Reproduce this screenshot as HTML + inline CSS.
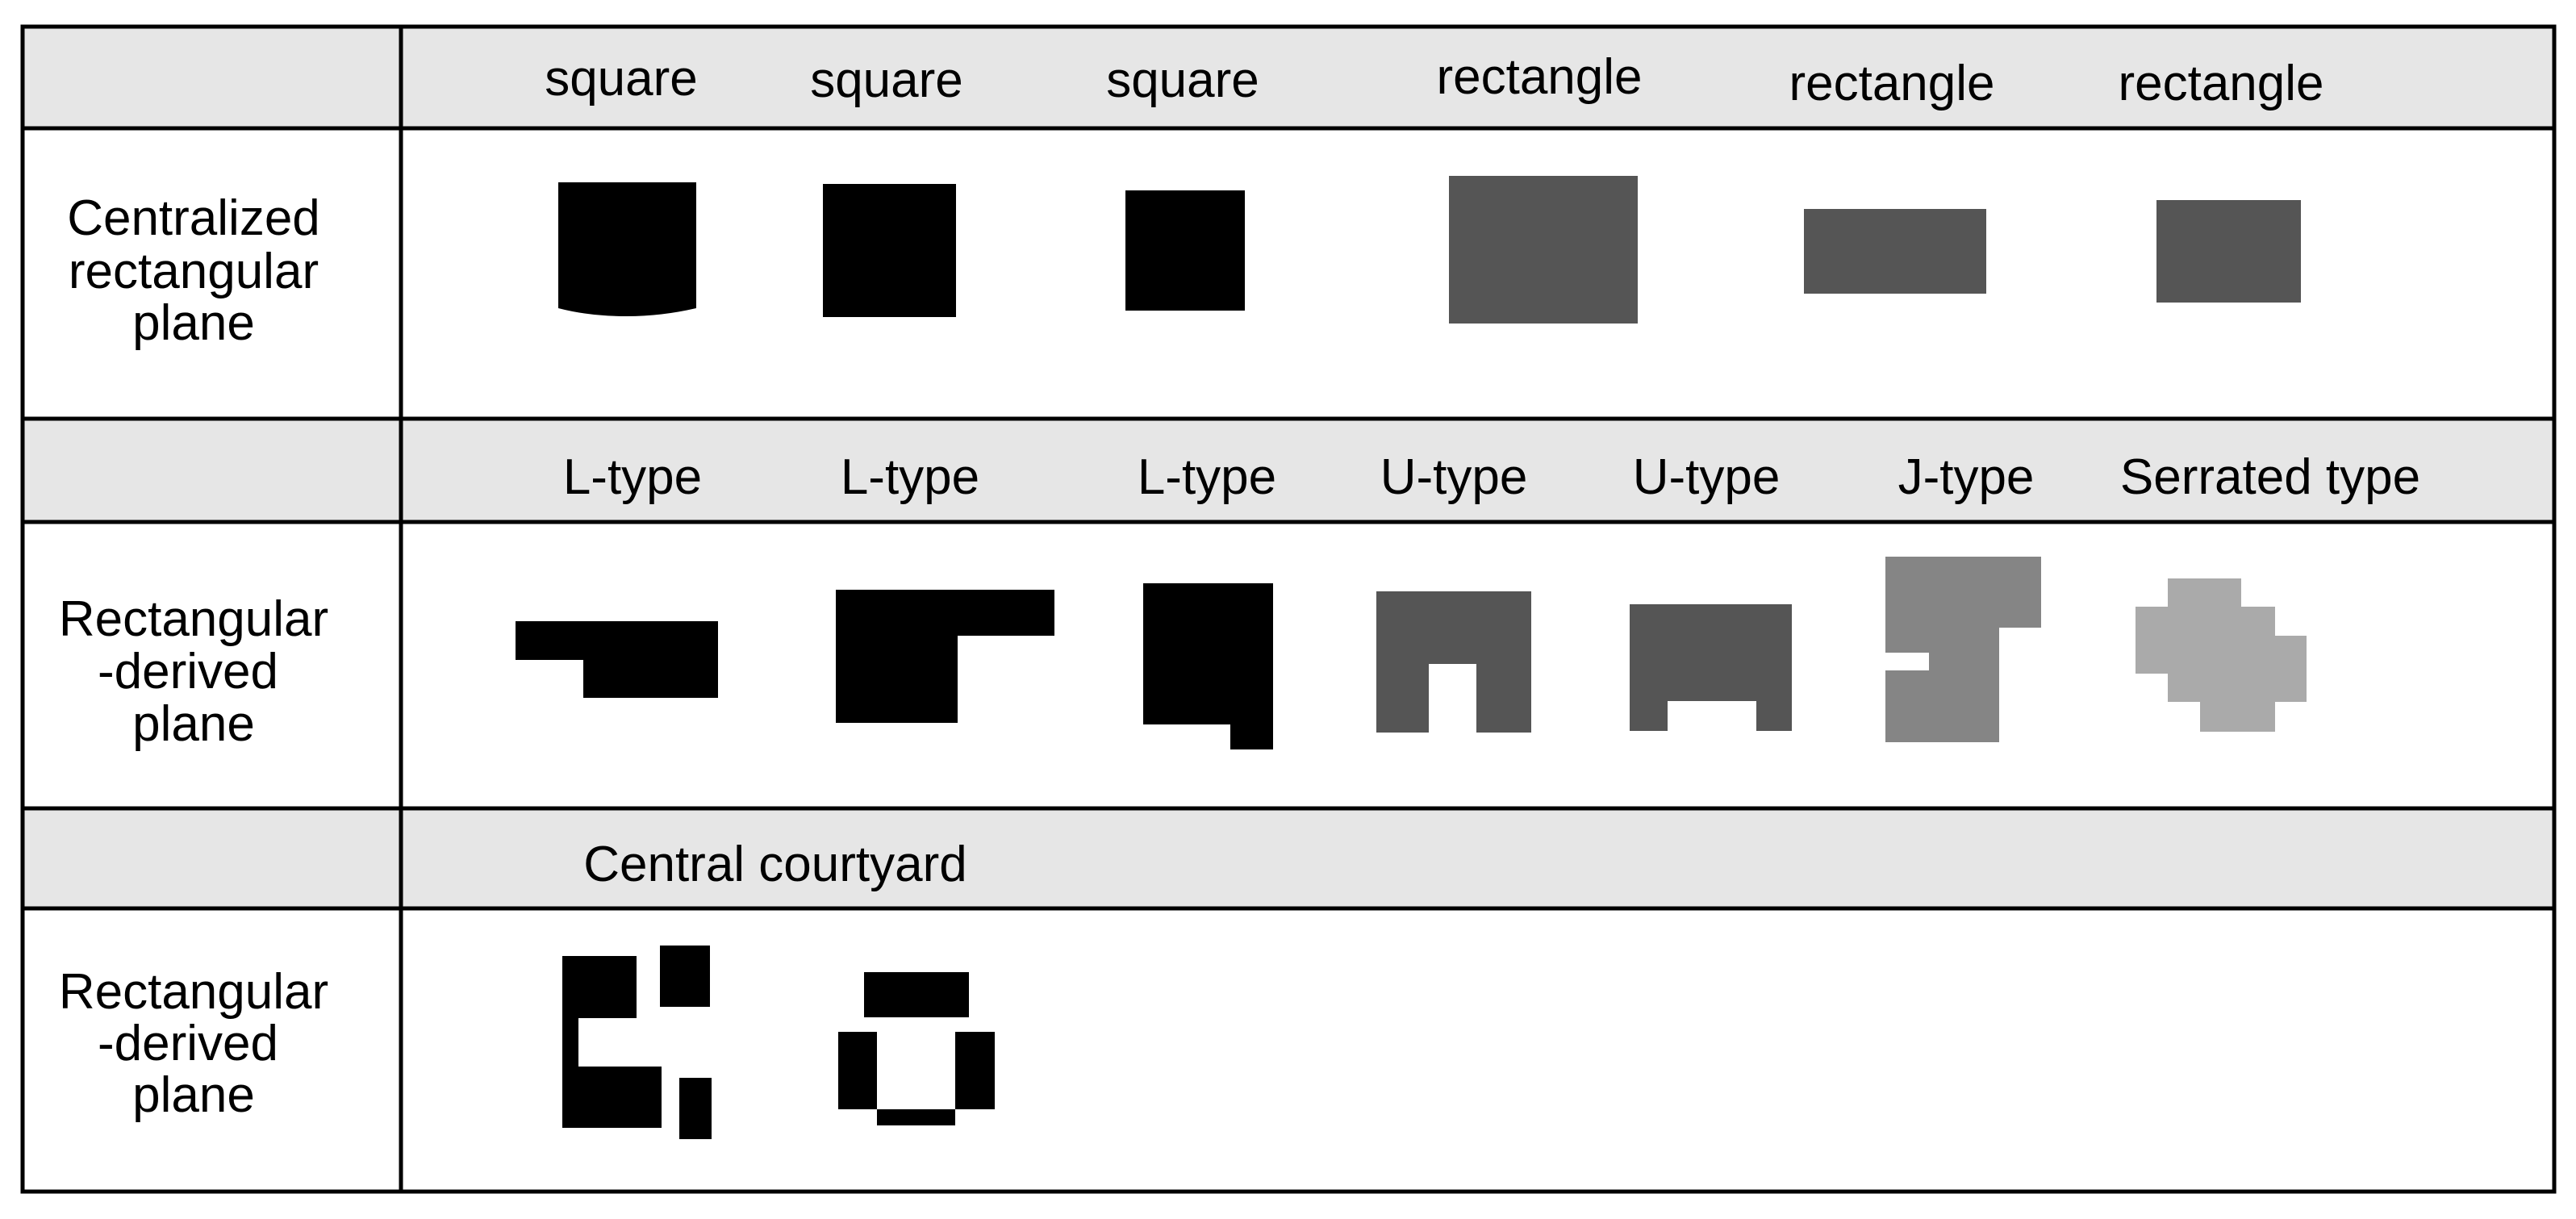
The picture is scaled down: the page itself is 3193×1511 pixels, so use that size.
<!DOCTYPE html>
<html><head><meta charset="utf-8"><style>
html,body{margin:0;padding:0;background:#fff;}
svg{display:block;}
text{font-family:"Liberation Sans",Arial,sans-serif;font-size:62px;fill:#000;}
</style></head><body>
<svg width="3193" height="1511" viewBox="0 0 3193 1511" xmlns="http://www.w3.org/2000/svg">
<rect x="0" y="0" width="3193" height="1511" fill="#fff"/>
<rect x="28" y="33" width="3138" height="126" fill="#e6e6e6"/>
<rect x="28" y="519" width="3138" height="128" fill="#e6e6e6"/>
<rect x="28" y="1002" width="3138" height="124" fill="#e6e6e6"/>
<g stroke="#000" stroke-width="5" fill="none">
<rect x="28" y="33" width="3138" height="1444"/>
<line x1="497" y1="33" x2="497" y2="1477"/>
<line x1="28" y1="159" x2="3166" y2="159"/>
<line x1="28" y1="519" x2="3166" y2="519"/>
<line x1="28" y1="647" x2="3166" y2="647"/>
<line x1="28" y1="1002" x2="3166" y2="1002"/>
<line x1="28" y1="1126" x2="3166" y2="1126"/>
</g>
<g text-anchor="middle">
<text x="770" y="118">square</text>
<text x="1099" y="120">square</text>
<text x="1466" y="120">square</text>
<text x="1908" y="116">rectangle</text>
<text x="2345" y="124">rectangle</text>
<text x="2753" y="124">rectangle</text>
<text x="784" y="612">L-type</text>
<text x="1128" y="612">L-type</text>
<text x="1496" y="612">L-type</text>
<text x="1802" y="612">U-type</text>
<text x="2115" y="612">U-type</text>
<text x="2437" y="612">J-type</text>
<text x="2814" y="612">Serrated type</text>
<text x="961" y="1092">Central courtyard</text>
<text x="240" y="291">Centralized</text>
<text x="240" y="357">rectangular</text>
<text x="240" y="421">plane</text>
<text x="240" y="788">Rectangular</text>
<text x="233" y="853">-derived</text>
<text x="240" y="918">plane</text>
<text x="240" y="1250">Rectangular</text>
<text x="233" y="1314">-derived</text>
<text x="240" y="1378">plane</text>
</g>
<path d="M692 226 H863 V382 Q820 392 777 392 Q730 392 692 382 Z" fill="#000"/>
<rect x="1020" y="228" width="165" height="165" fill="#000"/>
<rect x="1395" y="236" width="148" height="149" fill="#000"/>
<rect x="1796" y="218" width="234" height="183" fill="#555"/>
<rect x="2236" y="259" width="226" height="105" fill="#555"/>
<rect x="2673" y="248" width="179" height="127" fill="#555"/>
<polygon points="639,770 890,770 890,865 723,865 723,818 639,818" fill="#000"/>
<polygon points="1036,731 1307,731 1307,788 1187,788 1187,896 1036,896" fill="#000"/>
<polygon points="1417,723 1578,723 1578,929 1525,929 1525,898 1417,898" fill="#000"/>
<polygon points="1706,733 1898,733 1898,908 1830,908 1830,823 1771,823 1771,908 1706,908" fill="#555"/>
<polygon points="2020,749 2221,749 2221,906 2177,906 2177,869 2067,869 2067,906 2020,906" fill="#555"/>
<polygon points="2337,690 2530,690 2530,778 2478,778 2478,920 2337,920 2337,831 2391,831 2391,809 2337,809" fill="#858585"/>
<polygon points="2687,717 2778,717 2778,752 2820,752 2820,788 2859,788 2859,870 2820,870 2820,907 2727,907 2727,870 2687,870 2687,835 2647,835 2647,752 2687,752" fill="#aaa"/>
<polygon points="697,1185 789,1185 789,1262 717,1262 717,1322 820,1322 820,1398 697,1398" fill="#000"/>
<rect x="818" y="1172" width="62" height="76" fill="#000"/>
<rect x="842" y="1336" width="40" height="76" fill="#000"/>
<rect x="1071" y="1205" width="130" height="56" fill="#000"/>
<rect x="1039" y="1279" width="48" height="96" fill="#000"/>
<rect x="1184" y="1279" width="49" height="96" fill="#000"/>
<rect x="1087" y="1375" width="97" height="20" fill="#000"/>
</svg>
</body></html>
